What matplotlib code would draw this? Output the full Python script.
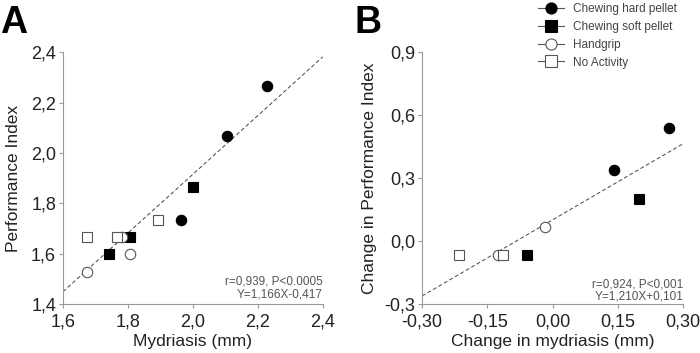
import matplotlib
matplotlib.use('Agg')
from matplotlib import pyplot as plt
import numpy as np

plt.rcParams['font.family'] = ['Liberation Sans', 'DejaVu Sans']

groups = ['Chewing hard pellet', 'Chewing soft pellet', 'Handgrip', 'No Activity']

# panel A: mydriasis (mm) vs performance index
a_x = {
    'Chewing hard pellet': [2.229, 2.104, 1.963],
    'Chewing soft pellet': [2.001, 1.806, 1.741],
    'Handgrip': [1.674, 1.806, 1.781],
    'No Activity': [1.674, 1.767, 1.894],
}
a_y = {
    'Chewing hard pellet': [2.267, 2.069, 1.734],
    'Chewing soft pellet': [1.864, 1.665, 1.599],
    'Handgrip': [1.528, 1.598, 1.665],
    'No Activity': [1.665, 1.665, 1.733],
}

# panel B: change in mydriasis vs change in performance index
b_x = {
    'Chewing hard pellet': [0.267, 0.142],
    'Chewing soft pellet': [0.198, -0.060],
    'Handgrip': [-0.017, -0.126],
    'No Activity': [-0.215, -0.114],
}
b_y = {
    'Chewing hard pellet': [0.539, 0.339],
    'Chewing soft pellet': [0.201, -0.068],
    'Handgrip': [0.069, -0.068],
    'No Activity': [-0.068, -0.068],
}

fit_a = (1.166, -0.417)
fit_b = (1.210, 0.101)

styles = {
    'Chewing hard pellet': dict(marker='o', mfc='black', mec='black'),
    'Chewing soft pellet': dict(marker='s', mfc='black', mec='black'),
    'Handgrip': dict(marker='o', mfc='white', mec='#555555'),
    'No Activity': dict(marker='s', mfc='white', mec='#555555'),
}

fig = plt.figure(figsize=(7, 3.53), dpi=100)
axA = fig.add_axes([0.090, 0.139, 0.371, 0.713])
axB = fig.add_axes([0.603, 0.139, 0.373, 0.713])


def style_axes(ax, xlim, ylim, xticks, yticks, xfmt, xlab, ylab, ylabpad):
    ax.set_xlim(xlim)
    ax.set_ylim(ylim)
    ax.set_xticks(xticks)
    ax.set_yticks(yticks)
    ax.set_xticklabels([(xfmt % t).replace('.', ',') for t in xticks])
    ax.set_yticklabels([('%.1f' % t).replace('.', ',') for t in yticks])
    for s in ['top', 'right']:
        ax.spines[s].set_visible(False)
    for s in ['left', 'bottom']:
        ax.spines[s].set_color('#999999')
        ax.spines[s].set_linewidth(0.8)
    ax.tick_params(direction='out', length=3, width=0.8, color='#999999',
                   labelsize=13, labelcolor='#222222')
    ax.tick_params(axis='x', pad=4)
    ax.tick_params(axis='y', pad=2)
    ax.set_xlabel(xlab, fontsize=12.5, color='#222222', labelpad=2.5)
    ax.set_ylabel(ylab, fontsize=12.5, color='#222222', labelpad=ylabpad)
    ax.patch.set_alpha(0)


style_axes(axA, (1.6, 2.4), (1.4, 2.4), [1.6, 1.8, 2.0, 2.2, 2.4],
           [1.4, 1.6, 1.8, 2.0, 2.2, 2.4], '%.1f', 'Mydriasis (mm)',
           'Performance Index', 7)
style_axes(axB, (-0.3, 0.3), (-0.3, 0.9), [-0.30, -0.15, 0.0, 0.15, 0.30],
           [-0.3, 0.0, 0.3, 0.6, 0.9], '%.2f', 'Change in mydriasis (mm)',
           'Change in Performance Index', 5)

xa = np.array([1.6, 2.4])
axA.plot(xa, fit_a[0] * xa + fit_a[1], '--', color='#444444', lw=0.7, dashes=(4, 2.5))
xb = np.array([-0.3, 0.3])
axB.plot(xb, fit_b[0] * xb + fit_b[1], '--', color='#444444', lw=0.7, dashes=(4, 2.5))

handles = []
for g in groups:
    st = styles[g]
    axA.plot(a_x[g], a_y[g], ls='none', ms=7.5, mew=0.8, clip_on=False, **st)
    axB.plot(b_x[g], b_y[g], ls='none', ms=7.5, mew=0.8, clip_on=False, **st)
    h, = axB.plot([], [], ls='-', color='#555555', lw=0.8, ms=8, mew=0.8, **st)
    handles.append(h)

axA.text(2.4, 1.465, 'r=0,939, P<0.0005\nY=1,166X-0,417', ha='right', va='center',
         fontsize=8.5, color='#555555', linespacing=1.1)
axB.text(0.3, -0.236, 'r=0,924, P<0,001\nY=1,210X+0,101', ha='right', va='center',
         fontsize=8.5, color='#555555', linespacing=1.1)

fig.legend(handles, groups, loc='upper left', bbox_to_anchor=(0.753, 1.022),
           frameon=False, fontsize=8.5, labelcolor='#444444', handlelength=2.2,
           handletextpad=0.8, labelspacing=0.5)

fig.text(0.0, 0.985, 'A', fontsize=27, fontweight='bold', va='top', ha='left')
fig.text(0.506, 0.985, 'B', fontsize=27, fontweight='bold', va='top', ha='left')

fig.savefig('out.png', dpi=100)
